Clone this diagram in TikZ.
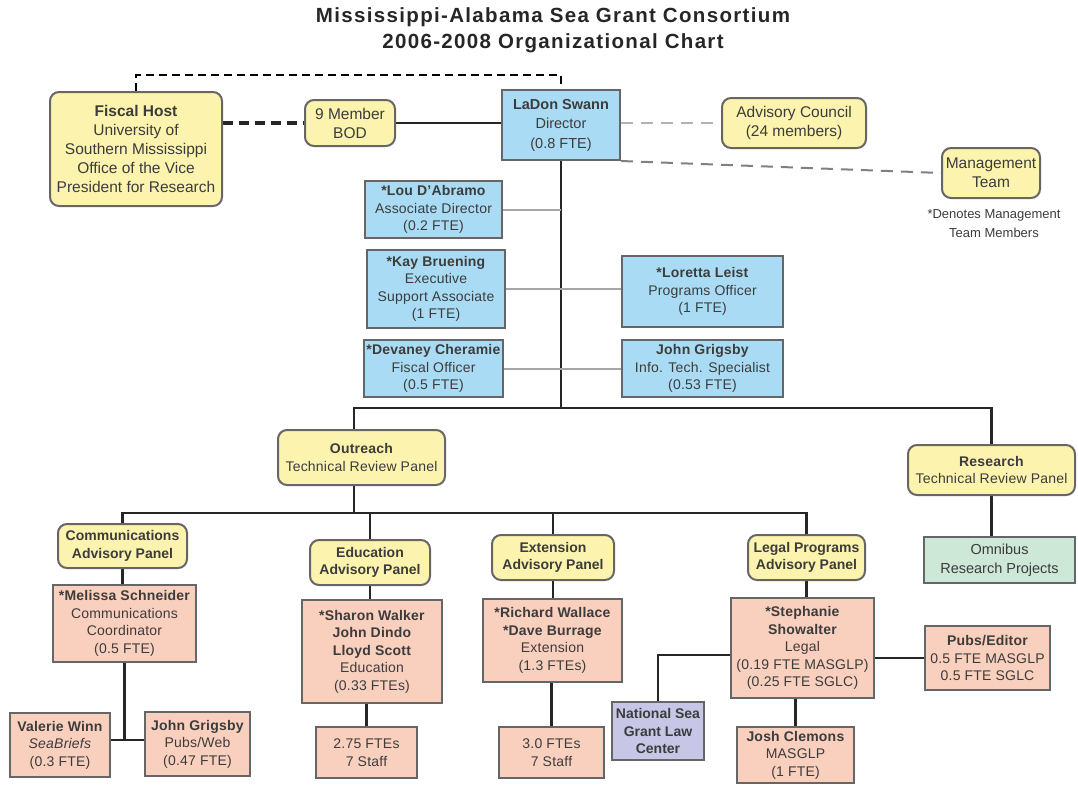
\documentclass[tikz,border=0pt]{standalone}
\usepackage{fontspec}
\setmainfont{Liberation Sans}
\usetikzlibrary{backgrounds}
\pgfdeclarelayer{edgelayer}
\pgfdeclarelayer{nodelayer}
\pgfsetlayers{edgelayer,nodelayer,main}
\definecolor{linegray}{HTML}{666666}
\definecolor{textgray}{HTML}{3C3C3C}
\definecolor{panelyellow}{HTML}{FCF4AE}
\definecolor{staffblue}{HTML}{A9DCF4}
\definecolor{progsalmon}{HTML}{F9CFBE}
\definecolor{omnigreen}{HTML}{CDE8D6}
\definecolor{lawlavender}{HTML}{C8C6E6}
\tikzset{font=\fontsize{14}{17.5}\selectfont\addfontfeature{LetterSpace=1.5}}
\tikzstyle{none}=[inner sep=0pt]
\tikzstyle{panel}=[draw=linegray, line width=2pt, fill=panelyellow, rounded corners=9pt, align=center, inner sep=0pt, text=textgray]
\tikzstyle{toppanel}=[panel, font=\fontsize{15.5}{19}\selectfont]
\tikzstyle{staffbox}=[draw=linegray, line width=2pt, fill=staffblue, align=center, inner sep=0pt, text=textgray]
\tikzstyle{progbox}=[staffbox, fill=progsalmon]
\tikzstyle{omnibox}=[staffbox, fill=omnigreen]
\tikzstyle{lawbox}=[staffbox, fill=lawlavender]
\tikzstyle{tree}=[line width=2.5pt, draw=black!85]
\tikzstyle{link}=[line width=2pt, draw=black!35]

\begin{document}
\begin{tikzpicture}[x=1pt, y=1pt]
	\useasboundingbox (0,0) rectangle (1078,-785);
	\begin{pgfonlayer}{nodelayer}
		\node [style=none, align=center, text=black!85, font=\fontsize{20.5}{26}\selectfont\bfseries\addfontfeature{LetterSpace=6.5}] (0) at (553, -30) {Mississippi-Alabama Sea Grant Consortium\\2006-2008 Organizational Chart};
		\node [style=toppanel, minimum width=172, minimum height=114] (1) at (136, -149) {\textbf{Fiscal Host}\\University of\\Southern Mississippi\\Office of the Vice\\President for Research};
		\node [style=toppanel, minimum width=90, minimum height=46] (2) at (350, -123) {9 Member\\BOD};
		\node [style=staffbox, minimum width=118, minimum height=70, font=\fontsize{14.5}{19.5}\selectfont] (3) at (561, -125) {\textbf{LaDon Swann}\\Director\\(0.8 FTE)};
		\node [style=toppanel, minimum width=144, minimum height=50] (4) at (794, -123) {Advisory Council\\(24 members)};
		\node [style=toppanel, minimum width=98, minimum height=50] (5) at (991, -173) {Management\\Team};
		\node [style=none, align=center, text=textgray, font=\fontsize{13}{19}\selectfont] (6) at (994, -224) {*Denotes Management\\Team Members};
		\node [style=staffbox, minimum width=137, minimum height=57] (7) at (433.5, -209.5) {\textbf{*Lou D'Abramo}\\Associate Director\\(0.2 FTE)};
		\node [style=staffbox, minimum width=138, minimum height=78] (8) at (436, -289) {\textbf{*Kay Bruening}\\Executive\\Support Associate\\(1 FTE)};
		\node [style=staffbox, minimum width=161, minimum height=71] (9) at (702.5, -291.5) {\textbf{*Loretta Leist}\\Programs Officer\\(1 FTE)};
		\node [style=staffbox, minimum width=139, minimum height=57] (10) at (433.5, -368.5) {\textbf{*Devaney Cheramie}\\Fiscal Officer\\(0.5 FTE)};
		\node [style=staffbox, minimum width=161, minimum height=57] (11) at (702.5, -368.5) {\textbf{John Grigsby}\\Info. Tech. Specialist\\(0.53 FTE)};
		\node [style=panel, minimum width=167, minimum height=55] (12) at (361.5, -457.5) {\textbf{Outreach}\\Technical Review Panel};
		\node [style=panel, minimum width=167, minimum height=50] (13) at (991.5, -470) {\textbf{Research}\\Technical Review Panel};
		\node [style=omnibox, minimum width=151, minimum height=46, font=\fontsize{14.5}{19}\selectfont] (14) at (999.5, -560) {Omnibus\\Research Projects};
		\node [style=panel, minimum width=129, minimum height=44, font=\fontsize{14}{17.5}\selectfont\bfseries] (15) at (122.5, -546) {Communications\\Advisory Panel};
		\node [style=panel, minimum width=120, minimum height=45, font=\fontsize{14}{17.5}\selectfont\bfseries] (16) at (370, -562.5) {Education\\Advisory Panel};
		\node [style=panel, minimum width=122, minimum height=45, font=\fontsize{14}{17.5}\selectfont\bfseries] (17) at (553, -557.5) {Extension\\Advisory Panel};
		\node [style=panel, minimum width=117, minimum height=45, font=\fontsize{14}{17.5}\selectfont\bfseries] (18) at (806.5, -557.5) {Legal Programs\\Advisory Panel};
		\node [style=progbox, minimum width=143, minimum height=77] (19) at (124.5, -623.5) {\textbf{*Melissa Schneider}\\Communications\\Coordinator\\(0.5 FTE)};
		\node [style=progbox, minimum width=140, minimum height=103] (20) at (372, -651.5) {\textbf{*Sharon Walker}\\\textbf{John Dindo}\\\textbf{Lloyd Scott}\\Education\\(0.33 FTEs)};
		\node [style=progbox, minimum width=139, minimum height=83] (21) at (552.5, -640.5) {\textbf{*Richard Wallace}\\\textbf{*Dave Burrage}\\Extension\\(1.3 FTEs)};
		\node [style=progbox, minimum width=143, minimum height=100] (22) at (802.5, -648) {\textbf{*Stephanie}\\\textbf{Showalter}\\Legal\\(0.19 FTE MASGLP)\\(0.25 FTE SGLC)};
		\node [style=progbox, minimum width=125, minimum height=64] (23) at (987.5, -658) {\textbf{Pubs/Editor}\\0.5 FTE MASGLP\\0.5 FTE SGLC};
		\node [style=lawbox, minimum width=92, minimum height=58, font=\fontsize{14}{17.5}\selectfont\bfseries] (24) at (658, -731) {National Sea\\Grant Law\\Center};
		\node [style=progbox, minimum width=117, minimum height=56] (25) at (795.5, -755) {\textbf{Josh Clemons}\\MASGLP\\(1 FTE)};
		\node [style=progbox, minimum width=101, minimum height=51] (26) at (366.5, -752.5) {2.75 FTEs\\7 Staff};
		\node [style=progbox, minimum width=105, minimum height=51] (27) at (551.5, -752.5) {3.0 FTEs\\7 Staff};
		\node [style=progbox, minimum width=100, minimum height=64] (28) at (60, -745) {\textbf{Valerie Winn}\\\textit{SeaBriefs}\\(0.3 FTE)};
		\node [style=progbox, minimum width=105, minimum height=64] (29) at (197.5, -744) {\textbf{John Grigsby}\\Pubs/Web\\(0.47 FTE)};
		\coordinate (30) at (561, -408);
		\coordinate (31) at (348, -75);
		\coordinate (32) at (354, -408);
		\coordinate (33) at (991.5, -408);
		\coordinate (34) at (354, -513);
		\coordinate (35) at (124.5, -740);
	\end{pgfonlayer}
	\begin{pgfonlayer}{edgelayer}
		\draw [line width=1.2pt, dash pattern=on 8pt off 5pt] (1.north) |- (31) -| (3.north);
		\draw [line width=4.5pt, draw=black!85, dash pattern=on 10pt off 6pt] (2.west -| 1.east) to (2.west);
		\draw [line width=2pt, draw=black!85] (2.east) to (2.east -| 3.west);
		\draw [line width=2pt, draw=black!30, dash pattern=on 12pt off 8pt] (4.west -| 3.east) to (4.west);
		\draw [line width=2pt, draw=black!50, dash pattern=on 12pt off 8pt] (3.south east) to (5.west);
		\draw [style=tree] (3.south) to (30);
		\draw [style=link] (7.east) to (7.east -| 3.south);
		\draw [style=link] (8.east) to (8.east -| 9.west);
		\draw [style=link] (10.east) to (11.west);
		\draw [style=tree] (32 |- 12.north) to (32) to (33) to (13.north);
		\draw [style=tree] (13.south) to (14.north -| 13.south);
		\draw [style=tree] (12.south -| 34) to (34);
		\draw [style=tree] (15.north) |- (34) -| (18.north);
		\draw [style=tree] (16.north) to (16.north |- 34);
		\draw [style=tree] (17.north) to (17.north |- 34);
		\draw [style=tree] (15.south) to (15.south |- 19.north);
		\draw [style=tree] (19.south) to (35);
		\draw [style=tree] (28.east |- 35) to (29.west |- 35);
		\draw [style=tree] (16.south) to (16.south |- 20.north);
		\draw [style=tree] (20.south -| 26.north) to (26.north);
		\draw [style=tree] (17.south) to (17.south |- 21.north);
		\draw [style=tree] (21.south -| 27.north) to (27.north);
		\draw [style=tree] (18.south) to (18.south |- 22.north);
		\draw [style=tree] (22.east |- 23.west) to (23.west);
		\draw [style=tree] ([yshift=-7pt]22.west) -| (24.north);
		\draw [style=tree] (25.north |- 22.south) to (25.north);
	\end{pgfonlayer}
\end{tikzpicture}
\end{document}
